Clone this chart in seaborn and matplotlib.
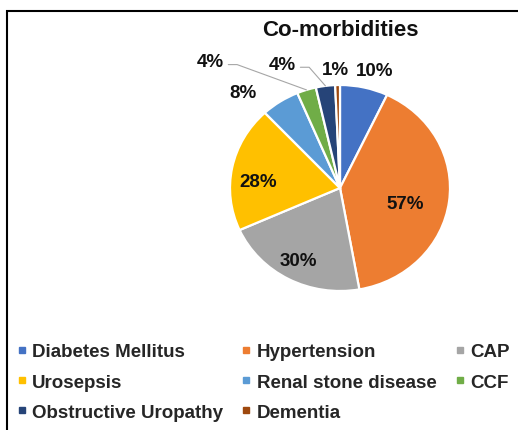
import numpy as np
import matplotlib.pyplot as plt
import seaborn as sns
from matplotlib.lines import Line2D
from matplotlib.patches import Rectangle

# ---- data ----
conditions = ["Diabetes Mellitus", "Hypertension", "CAP", "Urosepsis",
              "Renal stone disease", "CCF", "Obstructive Uropathy", "Dementia"]
percent = [10, 57, 30, 28, 8, 4, 4, 1]
colors = ["#4472C4", "#ED7D31", "#A5A5A5", "#FFC000",
          "#5B9BD5", "#70AD47", "#264478", "#9E480E"]

# label placement: radial distance and angle tweak (deg, ccw) per slice
label_dist = [1.18, 0.61, 0.80, 0.75, 1.28, 1.70, 1.31, 1.156]
label_shift = [-3, -7, 0, 6.4, 10.4, 26, 15.8, 0.9]
leader = [False, False, False, False, False, True, True, False]

sns.set_theme(style="white")
plt.rcParams["font.family"] = ["Liberation Sans", "DejaVu Sans"]

W, H = 518, 431
fig = plt.figure(figsize=(W / 100, H / 100), dpi=100)
fig.patch.set_facecolor("white")

# axes placed so the pie centre sits at (340, 189) px, rx=110, ry=103
ax = fig.add_axes([164 / W, (H - 343.5) / H, 352 / W, 309 / H])
wedges, _ = ax.pie(percent, colors=colors, startangle=90, counterclock=False,
                   wedgeprops=dict(edgecolor="white", linewidth=1.6))
ax.set_aspect("auto")
ax.set_xlim(-1.6, 1.6)
ax.set_ylim(-1.5, 1.5)
ax.axis("off")

for w, val, d, sh, ld in zip(wedges, percent, label_dist, label_shift, leader):
    mid = np.deg2rad((w.theta1 + w.theta2) / 2)
    ang = mid + np.deg2rad(sh)
    tx, ty = d * np.cos(ang), d * np.sin(ang)
    ax.text(tx, ty, f"{val}%", ha="center", va="center", fontsize=13.5,
            fontweight="bold", color="#111111")
    if ld:
        x0, x1 = tx + 0.16, tx + 0.24
        ex, ey = np.cos(mid), np.sin(mid)
        ax.plot([x0, x1, ex], [ty - 0.03, ty - 0.03, ey], color="#A6A6A6",
                lw=0.8, clip_on=False)

fig.text(340 / W, 1 - 30 / H, "Co-morbidities", ha="center", va="center",
         fontsize=16, fontweight="bold", color="#111111")

# legend laid out row-wise (matplotlib fills columns first)
order = [0, 3, 6, 1, 4, 7, 2, 5]
handles = [Line2D([], [], marker="s", linestyle="none", markersize=4.5,
                  markerfacecolor=colors[i], markeredgecolor=colors[i]) for i in order]
fig.legend(handles, [conditions[i] for i in order], ncol=3, loc="center left",
           bbox_to_anchor=(17 / W, 1 - 383 / H), frameon=False,
           prop=dict(size=13.5, weight="bold"), handlelength=0.5, handletextpad=0.3,
           columnspacing=1.0, labelspacing=0.69, borderpad=0, borderaxespad=0)

# chart border (left and top edges visible)
fig.add_artist(Rectangle((7 / W, -0.5), 2, (1 - 12 / H) + 0.5,
                         transform=fig.transFigure, fill=False,
                         edgecolor="black", lw=1.5))

fig.savefig("out.png", dpi=100)
